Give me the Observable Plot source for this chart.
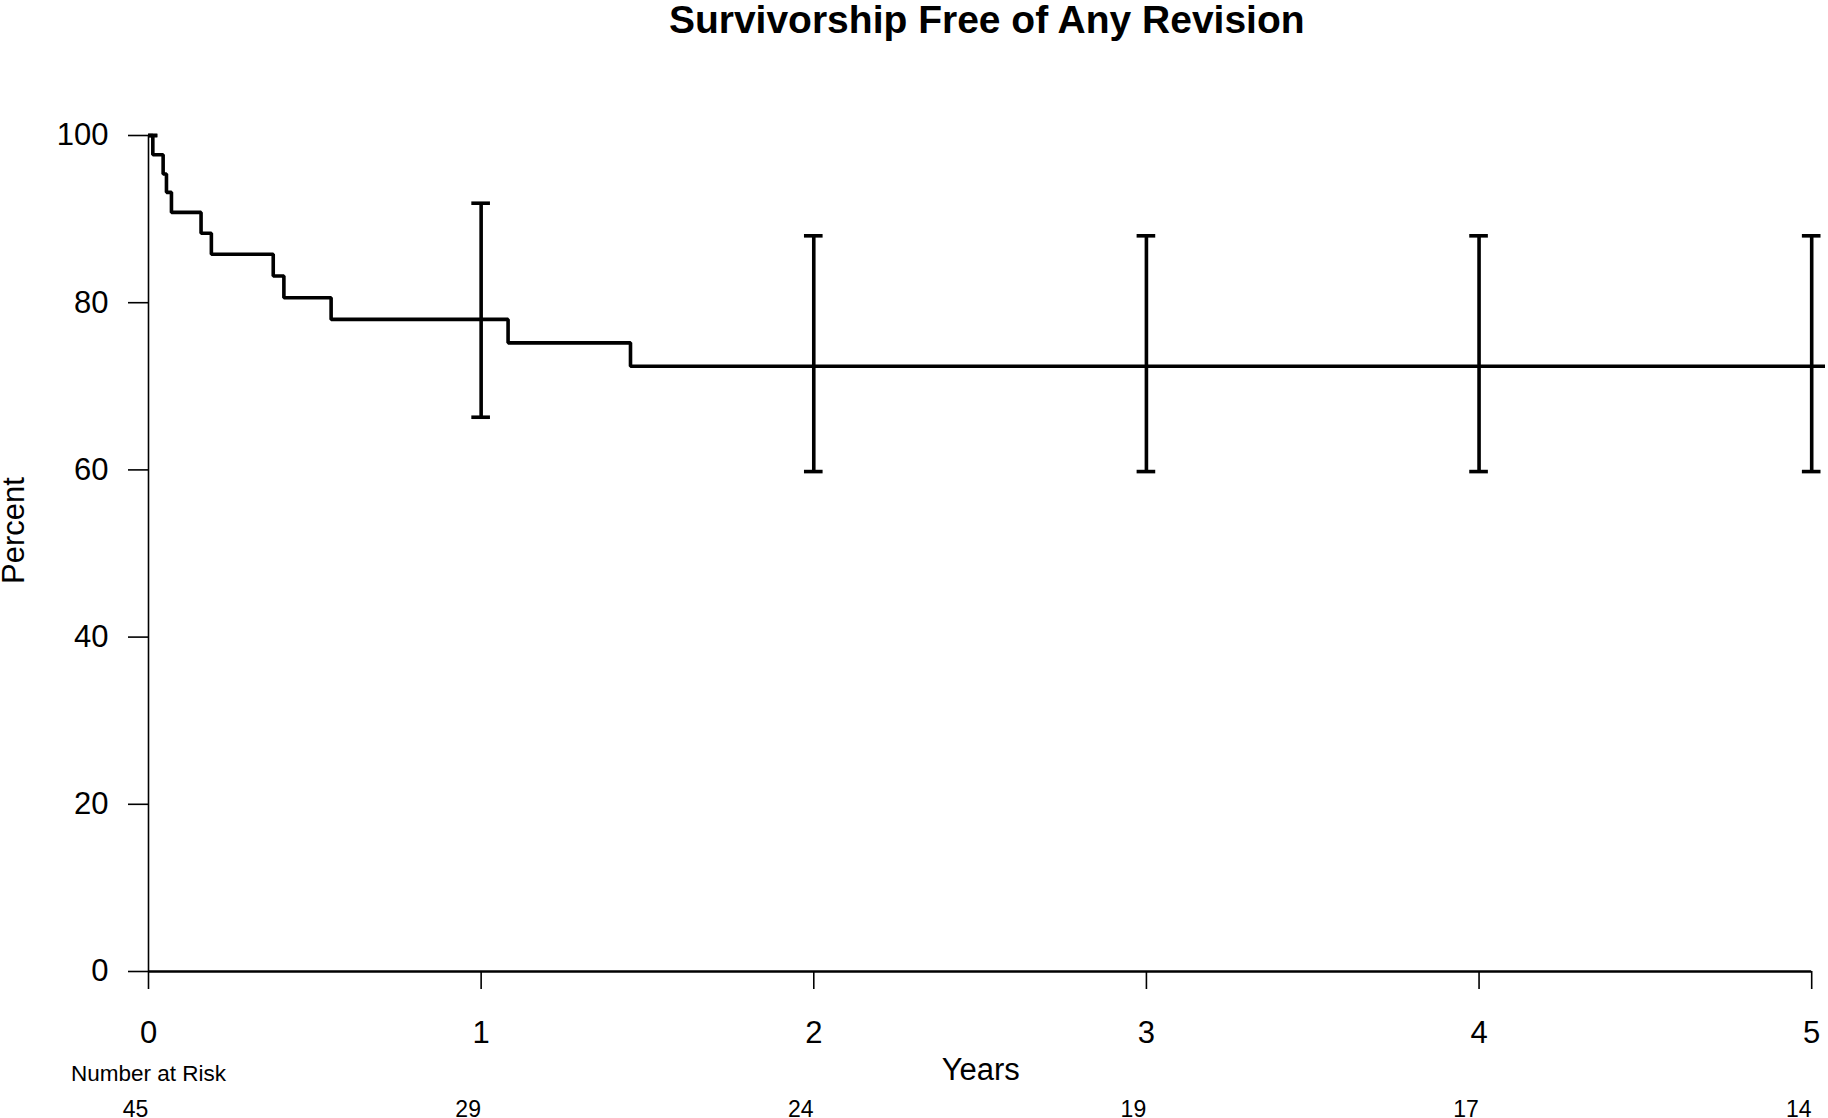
<!DOCTYPE html>
<html><head><meta charset="utf-8">
<script src="https://cdn.jsdelivr.net/npm/d3@7"></script>
<script src="https://cdn.jsdelivr.net/npm/@observablehq/plot@0.6"></script>
<style>html,body{margin:0;padding:0;background:#fff} svg{display:block}</style>
</head><body><div id="chart"></div>
<script>
// Kaplan-Meier step curve (years, percent free of revision)
const stepYears   = [0, 0.013, 0.044, 0.054, 0.069, 0.158, 0.189, 0.375, 0.407, 0.549, 1.081, 1.449, 5.04];
const stepPercent = [100, 97.7, 95.4, 93.2, 90.8, 88.3, 85.8, 83.2, 80.6, 78.0, 75.2, 72.4, 72.4];
// Confidence intervals at yearly marks
const ciYears = [0, 1, 2, 3, 4, 5];
const ciLower = [100, 66.3, 59.8, 59.8, 59.8, 59.8];
const ciUpper = [100, 91.9, 88.0, 88.0, 88.0, 88.0];
// Number at risk
const riskYears  = [0, 1, 2, 3, 4, 5];
const riskCounts = [45, 29, 24, 19, 17, 14];
// Ticks
const xTicks = [0, 1, 2, 3, 4, 5];
const yTicks = [0, 20, 40, 60, 80, 100];

const curve = stepYears.map((t, i) => ({t, s: stepPercent[i]}));
const ci = ciYears.map((t, i) => ({t, lo: ciLower[i], hi: ciUpper[i]}));
const risk = riskYears.map((t, i) => ({t, n: riskCounts[i]}));
const capHalf = 0.028;
const font = "'Liberation Sans', Arial, Helvetica, sans-serif";

const chart = Plot.plot({
  width: 1828, height: 1118,
  marginLeft: 148, marginRight: 3.5, marginTop: 135, marginBottom: 147,
  style: {fontFamily: font, background: "white", color: "black", overflow: "visible"},
  x: {domain: [0, 5.04], axis: null},
  y: {domain: [0, 100], axis: null},
  marks: [
    Plot.ruleX([0], {y1: 0, y2: 100, stroke: "black", strokeWidth: 1.6}),
    Plot.ruleY([0], {x1: 0, x2: 5, stroke: "black", strokeWidth: 2.4}),
    Plot.axisY({ticks: yTicks, tickSize: 20, tickPadding: 20, fontSize: 31, label: null, tickFormat: d => d, strokeWidth: 1.6}),
    Plot.axisX({ticks: xTicks, tickSize: 18, tickPadding: 31, fontSize: 31, label: null, tickFormat: d => d, strokeWidth: 1.6}),
    Plot.line(curve, {x: "t", y: "s", curve: "step-after", stroke: "black", strokeWidth: 3.6, strokeLinejoin: "miter", strokeLinecap: "butt"}),
    Plot.ruleX(ci, {x: "t", y1: "lo", y2: "hi", stroke: "black", strokeWidth: 3.6}),
    Plot.ruleY(ci, {y: "hi", x1: d => Math.max(0, d.t - capHalf), x2: d => d.t + capHalf, stroke: "black", strokeWidth: 3.6}),
    Plot.ruleY(ci, {y: "lo", x1: d => Math.max(0, d.t - capHalf), x2: d => d.t + capHalf, stroke: "black", strokeWidth: 3.6}),
    Plot.text(risk, {x: "t", text: d => String(d.n), frameAnchor: "bottom", dy: 145, dx: -13, lineAnchor: "bottom", fontSize: 23, fill: "black"}),
    Plot.text(["Number at Risk"], {frameAnchor: "bottom-left", dy: 109, lineAnchor: "bottom", textAnchor: "middle", fontSize: 22.5, fill: "black"}),
    Plot.text(["Years"], {frameAnchor: "bottom", dx: -6, dy: 108, lineAnchor: "bottom", fontSize: 31, fill: "black"}),
    Plot.text(["Percent"], {frameAnchor: "left", rotate: -90, textAnchor: "middle", dx: -134, dy: -23, fontSize: 31, fill: "black"}),
    Plot.text(["Survivorship Free of Any Revision"], {frameAnchor: "top", dy: -103, lineAnchor: "bottom", fontWeight: "bold", fontSize: 39, fill: "black"})
  ]
});
document.getElementById("chart").appendChild(chart);
</script>
</body></html>
